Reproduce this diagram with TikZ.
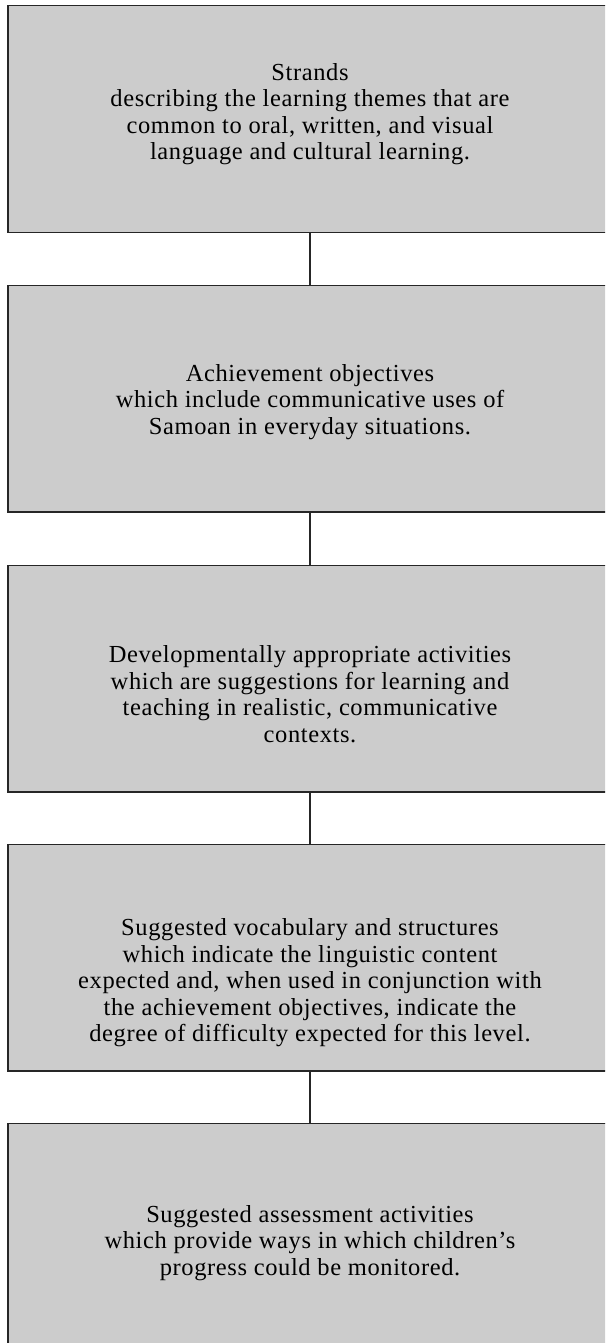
\documentclass[tikz,border=0pt]{standalone}
\usepackage{fontspec}
\setmainfont{Liberation Serif}[LetterSpace=2.5]
\begin{document}
\begin{tikzpicture}[x=1pt,y=-1pt,
  boxnode/.style={draw=black!85,line width=1.4pt,fill=boxgray,minimum width=604pt,inner sep=0pt,outer sep=0pt},
  txt/.style={align=center,font=\fontsize{24.5}{26.5}\selectfont,inner sep=0pt},
  link/.style={draw=black!85,line width=1.4pt}]
\definecolor{boxgray}{RGB}{204,204,204}
\useasboundingbox (0,0) rectangle (605,1343);
\clip (0,0) rectangle (605,1343);
\node[boxnode,minimum height=226.6pt] (b1) at (310,119) {};
\node[boxnode,minimum height=226.3pt] (b2) at (310,398.85) {};
\node[boxnode,minimum height=226.3pt] (b3) at (310,678.85) {};
\node[boxnode,minimum height=226.7pt] (b4) at (310,957.65) {};
\node[boxnode,minimum height=240pt,anchor=north] (b5) at (310,1123.3) {};
\draw[link] (b1.south) -- (b2.north);
\draw[link] (b2.south) -- (b3.north);
\draw[link] (b3.south) -- (b4.north);
\draw[link] (b4.south) -- (b5.north);
\node[txt] (t1) at (310,114) {Strands\\describing the learning themes that are\\common to oral, written, and visual\\language and cultural learning.};
\node[txt] (t2) at (310,402) {Achievement objectives\\which include communicative uses of\\Samoan in everyday situations.};
\node[txt] (t3) at (310,694) {Developmentally appropriate activities\\which are suggestions for learning and\\teaching in realistic, communicative\\contexts.};
\node[txt] (t4) at (310,983) {Suggested vocabulary and structures\\which indicate the linguistic content\\expected and, when used in conjunction with\\the achievement objectives, indicate the\\degree of difficulty expected for this level.};
\node[txt] (t5) at (310,1243) {Suggested assessment activities\\which provide ways in which children’s\\progress could be monitored.};
\end{tikzpicture}
\end{document}
